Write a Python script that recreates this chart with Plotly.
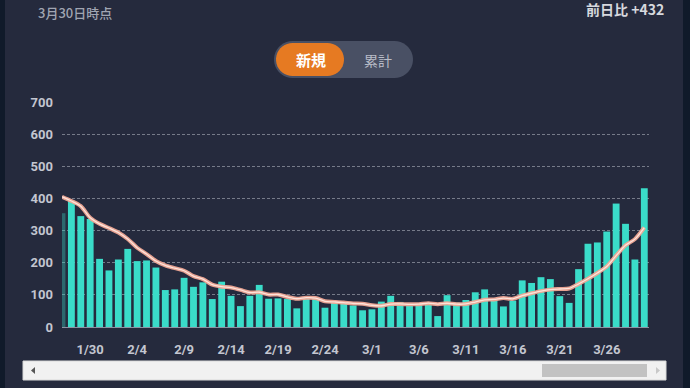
import numpy as np
import plotly.graph_objects as go

# ---------------- data ----------------
jan_days = ["01-27", "01-28", "01-29", "01-30", "01-31"]
feb_days = ["02-%02d" % d for d in range(1, 29)]
mar_days = ["03-%02d" % d for d in range(1, 31)]
dates = ["2021-" + d for d in jan_days + feb_days + mar_days]

new_cases = [
    354, 393, 345, 336, 212,
    176, 210, 243, 205, 207, 185, 115, 117, 153, 125, 139, 87, 141, 97, 65,
    97, 131, 88, 89, 87, 58, 88, 89, 60, 76, 74, 67, 52,
    55, 79, 97, 78, 66, 69, 74, 34, 99, 76, 84, 108, 117, 82, 64, 82, 145,
    137, 155, 149, 96, 75, 180, 259, 263, 297, 384, 321, 210, 432,
]

avg7 = [
    405, 392, 376, 340, 321,
    308, 294, 273.6, 246.7, 227.0, 205.4, 191.6, 183.1, 175.0, 158.1, 148.7,
    131.6, 125.3, 122.7, 115.3, 107.3, 108.1, 100.9, 101.1, 93.4, 87.9, 91.1,
    90.0, 79.9, 78.1, 76.0, 73.1, 72.3,
    67.6, 66.1, 71.4, 71.7, 70.6, 70.9, 74.0, 71.0, 73.9, 70.9, 71.7, 77.7,
    84.6, 85.7, 90.0, 87.6, 97.4, 105.0, 111.7, 116.3, 118.3, 119.9, 133.9,
    150.1, 168.1, 188.4, 222.0, 254.1, 273.4, 309.4,
]

tick_dates = ["2021-01-30", "2021-02-04", "2021-02-09", "2021-02-14", "2021-02-19",
              "2021-02-24", "2021-03-01", "2021-03-06", "2021-03-11", "2021-03-16",
              "2021-03-21", "2021-03-26"]
tick_labels = ["1/30", "2/4", "2/9", "2/14", "2/19", "2/24", "3/1", "3/6",
               "3/11", "3/16", "3/21", "3/26"]

as_of_text = "3月30日時点"
diff_text = "前日比 +432"
toggle_on = "新規"
toggle_off = "累計"

# ---------------- layout geometry (pixels) ----------------
W, H = 690, 388
L, R, T, B = 62, 649, 102, 327

def px(x):
    return (x - L) / (R - L)

def py(y):
    return (B - y) / (B - T)

def pill_path(x0, x1, y0, y1, n=20):
    r = (y1 - y0) / 2.0
    cy = (y0 + y1) / 2.0
    pts = []
    for a in np.linspace(-np.pi / 2, np.pi / 2, n):
        pts.append((x1 - r + r * np.cos(a), cy + r * np.sin(a)))
    for a in np.linspace(np.pi / 2, 3 * np.pi / 2, n):
        pts.append((x0 + r + r * np.cos(a), cy + r * np.sin(a)))
    s = "M %.5f,%.5f " % (px(pts[0][0]), py(pts[0][1]))
    s += " ".join("L %.5f,%.5f" % (px(a), py(b)) for a, b in pts[1:])
    return s + " Z"

def rect(x0, x1, y0, y1, color, line=None):
    d = dict(type="rect", xref="paper", yref="paper",
             x0=px(x0), x1=px(x1), y0=py(y1), y1=py(y0),
             fillcolor=color, layer="above",
             line=dict(width=0) if line is None else line)
    return d

CARD = "#252a3d"
OUTER = "#101a2a"

opac = [0.35] + [1.0] * (len(new_cases) - 1)

fig = go.Figure()
fig.add_trace(go.Bar(
    x=dates, y=new_cases,
    marker=dict(color="#3adcc9", opacity=opac, line=dict(width=0)),
    hoverinfo="skip",
))
fig.add_trace(go.Scatter(
    x=dates, y=avg7, mode="lines",
    line=dict(color="rgba(240,168,150,0.95)", width=4, shape="spline", smoothing=0.8),
    hoverinfo="skip",
))
fig.add_trace(go.Scatter(
    x=dates, y=avg7, mode="lines",
    line=dict(color="#fde3da", width=1.3, shape="spline", smoothing=0.8),
    hoverinfo="skip",
))

shapes = [
    rect(-2, 5, -5, 395, OUTER),
    rect(683, 695, -5, 395, OUTER),
    # toggle
    dict(type="path", xref="paper", yref="paper", path=pill_path(274, 413, 41, 78),
         fillcolor="#495064", line=dict(width=0), layer="above"),
    dict(type="path", xref="paper", yref="paper", path=pill_path(276, 344, 43, 76),
         fillcolor="#e67a22", line=dict(width=0), layer="above"),
    # scrollbar
    rect(23, 666, 361, 380, "#f1f1f1", line=dict(color="#d9d9d9", width=1)),
    rect(542, 647, 364, 377, "#c2c2c2"),
    dict(type="path", xref="paper", yref="paper",
         path="M %f,%f L %f,%f L %f,%f Z" % (px(31), py(370.5), px(35), py(367), px(35), py(374)),
         fillcolor="#555555", line=dict(width=0), layer="above"),
    dict(type="path", xref="paper", yref="paper",
         path="M %f,%f L %f,%f L %f,%f Z" % (px(660), py(370.5), px(656), py(367), px(656), py(374)),
         fillcolor="#c8c8c8", line=dict(width=0), layer="above"),
]

annotations = [
    dict(text=as_of_text, xref="paper", yref="paper", x=px(36), y=py(12),
         xanchor="left", yanchor="middle", showarrow=False,
         font=dict(family="Noto Sans CJK JP", size=13, color="#a0a5b2", weight=500)),
    dict(text=diff_text, xref="paper", yref="paper", x=px(666), y=py(9),
         xanchor="right", yanchor="middle", showarrow=False,
         font=dict(family="Noto Sans CJK JP", size=14, color="#d6d8de", weight="bold")),
    dict(text=toggle_on, xref="paper", yref="paper", x=px(311), y=py(59.5),
         xanchor="center", yanchor="middle", showarrow=False,
         font=dict(family="Noto Sans CJK JP", size=15, color="#ffffff", weight="bold")),
    dict(text=toggle_off, xref="paper", yref="paper", x=px(378), y=py(59.5),
         xanchor="center", yanchor="middle", showarrow=False,
         font=dict(family="Noto Sans CJK JP", size=14, color="#b9bdc8")),
]

fig.update_layout(
    width=W, height=H,
    margin=dict(l=L, r=W - R, t=T, b=H - B, pad=0),
    paper_bgcolor=CARD, plot_bgcolor="rgba(0,0,0,0)",
    showlegend=False, bargap=0.27,
    shapes=shapes, annotations=annotations,
    font=dict(family="Roboto", color="#c3c6d0"),
    xaxis=dict(
        type="date", range=["2021-01-27", "2021-03-30 12:00"],
        tickvals=tick_dates, ticktext=tick_labels,
        showgrid=False, zeroline=False,
        showline=True, linecolor="#8d93a3", linewidth=1,
        ticks="", ticklabelstandoff=10,
        tickfont=dict(family="Roboto", size=13, color="#c3c6d0", weight="bold"),
        fixedrange=True,
    ),
    yaxis=dict(
        range=[0, 700], dtick=100, tick0=0,
        showgrid=True, gridcolor="rgba(200,204,214,0.5)", gridwidth=1, griddash="3px,2px",
        zeroline=False, showline=False, ticks="", ticklabelstandoff=8,
        tickfont=dict(family="Roboto", size=13, color="#c3c6d0", weight="bold"),
        fixedrange=True,
    ),
)

fig.write_html(
    "out.html",
    config={"displayModeBar": False, "staticPlot": True},
    post_script="document.body.style.margin='0';document.body.style.background='#101a2a';",
)
